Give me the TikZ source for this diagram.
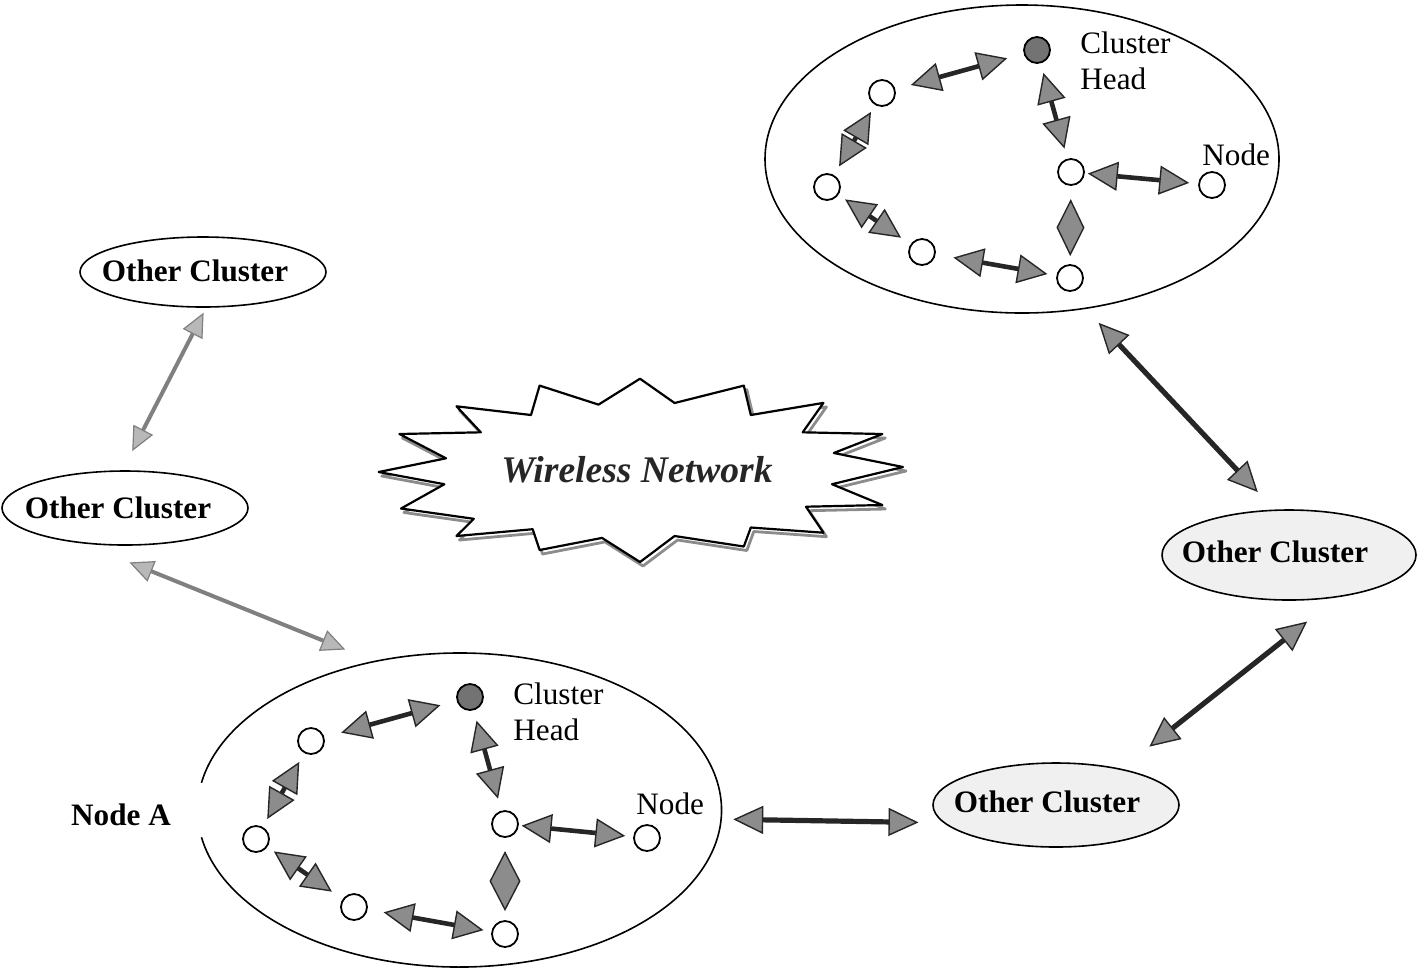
\documentclass[tikz,border=0pt]{standalone}
\usepackage{fontspec}
\setmainfont{Liberation Serif}
\usetikzlibrary{arrows.meta,shapes.geometric,calc}
\definecolor{headfill}{gray}{0.55}
\definecolor{lightfill}{gray}{0.72}
\begin{document}
\begin{tikzpicture}[x=0.5pt,y=-0.5pt,
  cltip/.tip={Triangle[length=15pt,width=14.5pt,line width=0.7pt,fill=headfill]},
  bigtip/.tip={Triangle[length=15pt,width=14pt,line width=0.7pt,fill=headfill]},
  graytip/.tip={Triangle[length=12pt,width=11pt,line width=0.6pt,fill=lightfill]},
  dkitet/.tip={Kite[length=28.5pt,width=14pt,inset=14.25pt,line width=0.7pt,fill=headfill]},
  dkiteb/.tip={Kite[length=30pt,width=15.5pt,inset=15pt,line width=0.7pt,fill=headfill]},
  cl/.style={ellipse, draw=black, line width=0.8pt, inner sep=0pt},
  oc/.style={cl},
  nd/.style={circle, draw=black, line width=0.9pt, minimum size=13pt, inner sep=0pt, fill=white},
  hd/.style={nd, fill=black!55},
  lbl/.style={font=\fontsize{15.6}{18}\selectfont, inner sep=0pt},
  blbl/.style={font=\fontsize{15.6}{18}\selectfont\bfseries, inner sep=0pt},
  link/.style={line width=2.3pt, draw=black!85, arrows={cltip-cltip}},
  biglink/.style={line width=2.6pt, draw=black!85, arrows={bigtip-bigtip}},
  graylink/.style={line width=2pt, draw=black!50, arrows={graytip-graytip}},
  diamt/.style={line width=0.5pt, draw=black!85, arrows={-dkitet}},
  diamb/.style={line width=0.5pt, draw=black!85, arrows={-dkiteb}},
]
\useasboundingbox (0,0) rectangle (1417,971);

% ---------- cluster outlines ----------
\node[cl, minimum width=257pt, minimum height=154pt] (tc) at (1022,159) {};
\node[cl, draw=none, minimum width=262pt, minimum height=157pt] (bc) at (459.5,810) {};
\draw[line width=0.8pt] ([shift={(190:131pt and 78.5pt)}]bc.center)
  arc[start angle=190, end angle=530, x radius=131pt, y radius=78.5pt];

\node[oc, minimum width=123pt, minimum height=35pt] (oc1) at (203,272) {};
\node[oc, minimum width=123pt, minimum height=37pt] (oc2) at (125,508) {};
\node[oc, fill=black!6, minimum width=127pt, minimum height=45pt] (oc3) at (1289,555) {};
\node[oc, fill=black!6, minimum width=123pt, minimum height=42pt] (oc4) at (1056,805) {};
\node[blbl] (oc1t) at (195,271) {Other Cluster};
\node[blbl] (oc2t) at (118,508) {Other Cluster};
\node[blbl] (oc3t) at (1275,552) {Other Cluster};
\node[blbl] (oc4t) at (1047,802) {Other Cluster};

% ---------- wireless network burst ----------
\def\burst{(456.5,406.3) -- (531,415) -- (539.6,385.6) -- (598.5,404.6) -- (640,378.7)
 -- (674.6,403) -- (743.8,385.6) -- (750.8,415) -- (823.4,402.9) -- (802.7,432.3)
 -- (882.3,434) -- (833.8,453) -- (903,467) -- (832,484.2) -- (882.3,505)
 -- (806,506.7) -- (823.4,532.7) -- (750.8,527.5) -- (743.8,546.5) -- (674.6,536)
 -- (640,562) -- (602,537.9) -- (539.6,550) -- (532.7,529.2) -- (456.5,536)
 -- (473.8,518.8) -- (401,508.5) -- (444.4,484.2) -- (378.7,472) -- (446,458.3)
 -- (399.4,434) -- (480.8,432.3) -- cycle}
\draw[black!45, line width=1.4pt, line join=round, shift={(3,4)}] \burst;
\draw[black, fill=white, line width=1.1pt, line join=round] \burst;
\node[font=\fontsize{18.8}{22}\selectfont\bfseries\itshape, text=black!85, inner sep=0pt] (wn) at (637,470) {Wireless Network};

% ---------- top cluster nodes ----------
\node[hd] (th) at (1037,50) {};
\node[nd] (t1) at (882,93) {};
\node[nd] (t2) at (827,187) {};
\node[nd] (t3) at (922,252) {};
\node[nd] (t4) at (1070,278) {};
\node[nd] (t5) at (1071,172) {};
\node[nd] (t6) at (1212,185) {};
\node[lbl, align=left, anchor=west] (thl) at (1080,61) {Cluster\\Head};
\node[lbl, anchor=west] (t6l) at (1202,155) {Node};

\draw[link, shorten <=8pt, shorten >=8.5pt] (t1) -- (th);
\draw[link, shorten <=4pt, shorten >=5pt] (t1) -- (t2);
\draw[link, shorten <=4pt, shorten >=5.7pt] (t2) -- (t3);
\draw[link, shorten <=9pt, shorten >=4.5pt] (t3) -- (t4);
\draw[link, shorten <=4.9pt, shorten >=5.2pt] (th) -- (t5);
\draw[link, shorten <=1.5pt, shorten >=4.5pt] (t5) -- (t6);
\draw[diamt, shorten <=7.5pt, shorten >=4pt] (t5) -- (t4);

% ---------- bottom cluster nodes ----------
\node[hd] (bh) at (470,697) {};
\node[nd] (b1) at (311,741) {};
\node[nd] (b2) at (256,839) {};
\node[nd] (b3) at (354,907) {};
\node[nd] (b4) at (505,934) {};
\node[nd] (b5) at (505,824) {};
\node[nd] (b6) at (647,838) {};
\node[lbl, align=left, anchor=west] (bhl) at (513,712) {Cluster\\Head};
\node[lbl, anchor=west] (b6l) at (636,804) {Node};
\node[blbl] (nodea) at (121,815) {Node A};

\draw[link, shorten <=8.7pt, shorten >=8.4pt] (b1) -- (bh);
\draw[link, shorten <=5pt, shorten >=4.5pt] (b1) -- (b2);
\draw[link, shorten <=3.9pt, shorten >=6.5pt] (b2) -- (b3);
\draw[link, shorten <=8.1pt, shorten >=4pt] (b3) -- (b4);
\draw[link, shorten <=5.3pt, shorten >=6.2pt] (bh) -- (b5);
\draw[link, shorten <=1.4pt, shorten >=4pt] (b5) -- (b6);
\draw[diamb, shorten <=7.2pt, shorten >=4.5pt] (b5) -- (b4);

% ---------- inter-cluster links ----------
\draw[graylink, shorten <=2.75pt, shorten >=10.75pt] (oc1.-85.9) -- (oc2.94.2);
\draw[graylink, shorten <=25.2pt, shorten >=15.2pt] (oc2.-140.1) -- (bc.120.2);
\draw[biglink, shorten <=9.5pt, shorten >=12pt] (tc.-67.1) -- (oc3.108.4);
\draw[biglink, shorten <=19.5pt, shorten >=17.75pt] (oc3.-41) -- (oc4.29);
\draw[biglink, shorten <=5.7pt, shorten >=12.5pt] (bc.-2.85) -- (oc4.189.2);
\end{tikzpicture}
\end{document}
